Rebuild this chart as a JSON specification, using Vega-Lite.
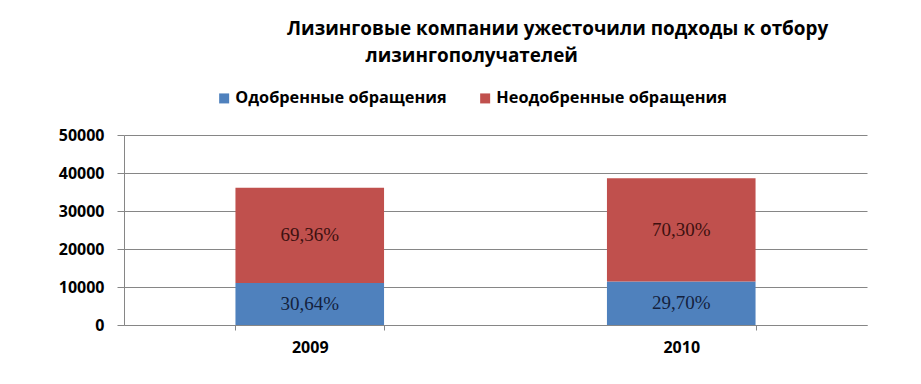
{
  "$schema": "https://vega.github.io/schema/vega-lite/v6.json",
  "autosize": "none",
  "width": 743,
  "height": 190,
  "padding": {"left": 124, "top": 135, "right": 54, "bottom": 59},
  "background": "white",
  "title": {
    "text": ["Лизинговые компании ужесточили подходы к отбору", "\u200b\u00a0\u00a0\u00a0\u00a0\u00a0\u00a0\u00a0\u00a0\u00a0\u00a0\u00a0\u00a0\u00a0\u00a0\u00a0\u00a0лизингополучателей"],
    "anchor": "start",
    "frame": "group",
    "dx": 163,
    "font": "Open Sans",
    "fontSize": 18.9,
    "fontWeight": "bold",
    "color": "black",
    "lineHeight": 27,
    "offset": 24
  },
  "data": {
    "values": [
      {"year": "2009", "type": "Одобренные обращения", "idx": 1, "value": 11076, "label": "30,64%"},
      {"year": "2009", "type": "Неодобренные обращения", "idx": 2, "value": 25074, "label": "69,36%"},
      {"year": "2010", "type": "Одобренные обращения", "idx": 1, "value": 11470, "label": "29,70%"},
      {"year": "2010", "type": "Неодобренные обращения", "idx": 2, "value": 27150, "label": "70,30%"}
    ]
  },
  "encoding": {
    "x": {
      "field": "year",
      "type": "nominal",
      "scale": {"paddingInner": 0.6, "paddingOuter": 0.3},
      "axis": {
        "title": null,
        "labelAngle": 0,
        "tickBand": "extent",
        "tickSize": 5,
        "tickColor": "#868686",
        "domainColor": "#868686",
        "labelFont": "Open Sans",
        "labelFontSize": 16,
        "labelFontWeight": "bold",
        "labelColor": "black",
        "labelPadding": 9,
        "grid": false
      }
    }
  },
  "layer": [
    {
      "mark": {"type": "bar"},
      "encoding": {
        "y": {
          "field": "value",
          "type": "quantitative",
          "stack": "zero",
          "scale": {"domain": [0, 50000], "nice": false},
          "axis": {
            "title": null,
            "values": [0, 10000, 20000, 30000, 40000, 50000],
            "format": "d",
            "labelOverlap": false,
            "tickSize": 7,
            "tickColor": "#868686",
            "domainColor": "#868686",
            "gridColor": "#868686",
            "labelFont": "Open Sans",
            "labelFontSize": 16,
            "labelFontWeight": "bold",
            "labelColor": "black",
            "labelPadding": 13
          }
        },
        "order": {"field": "idx", "type": "quantitative"},
        "color": {
          "field": "type",
          "type": "nominal",
          "scale": {
            "domain": ["Одобренные обращения", "Неодобренные обращения"],
            "range": ["#4f81bd", "#c0504d"]
          },
          "legend": {
            "orient": "none",
            "legendX": 92,
            "legendY": -45,
            "direction": "horizontal",
            "title": null,
            "symbolType": "square",
            "symbolSize": 100,
            "symbolStrokeWidth": 0,
            "labelFont": "Open Sans",
            "labelFontSize": 16.3,
            "labelFontWeight": "bold",
            "labelColor": "black",
            "labelOffset": 3,
            "columnPadding": 30,
            "labelLimit": 400
          }
        }
      }
    },
    {
      "mark": {"type": "text", "font": "Liberation Serif", "fontSize": 19, "baseline": "middle", "align": "center"},
      "encoding": {
        "y": {
          "field": "value",
          "type": "quantitative",
          "stack": "zero",
          "bandPosition": 0.5,
          "scale": {"domain": [0, 50000], "nice": false},
          "axis": {
            "title": null,
            "values": [0, 10000, 20000, 30000, 40000, 50000],
            "format": "d",
            "labelOverlap": false,
            "tickSize": 7,
            "tickColor": "#868686",
            "domainColor": "#868686",
            "gridColor": "#868686",
            "labelFont": "Open Sans",
            "labelFontSize": 16,
            "labelFontWeight": "bold",
            "labelColor": "black",
            "labelPadding": 13
          }
        },
        "order": {"field": "idx", "type": "quantitative"},
        "detail": {"field": "type", "type": "nominal"},
        "text": {"field": "label", "type": "nominal"},
        "color": {
          "condition": {"test": "datum.idx === 1", "value": "#14213d"},
          "value": "#3d1010"
        }
      }
    }
  ],
  "config": {
    "view": {"stroke": null}
  }
}
